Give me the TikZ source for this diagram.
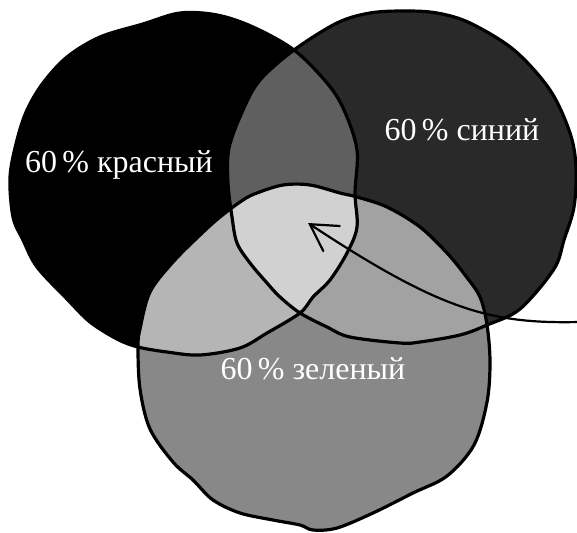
\documentclass[tikz,border=0pt]{standalone}
\usepackage{fontspec}
\setmainfont{Liberation Serif}
\usetikzlibrary{arrows.meta}
\definecolor{cRonly}{HTML}{000000}
\definecolor{cBonly}{HTML}{292929}
\definecolor{cGonly}{HTML}{888888}
\definecolor{cRB}{HTML}{5F5F5F}
\definecolor{cRG}{HTML}{B5B5B5}
\definecolor{cBG}{HTML}{A2A2A2}
\definecolor{cRGB}{HTML}{D1D1D1}
\tikzset{
  outline/.style={draw=black, line width=3.2pt, line join=round},
  lbl/.style={text=white, inner sep=0pt, anchor=base, font=\fontsize{32}{38}\selectfont},
  pointer/.style={draw=black, line width=2.2pt, line cap=round,
    -{Straight Barb[length=26pt,width=30pt,line cap=round]}},
}
\def\redpath{plot[smooth cycle, tension=0.55] coordinates {(180,13) (217,15) (253,27) (294,50) (327,83) (344,110) (357,150) (355,193) (357,227) (347,253) (330,280) (313,297) (300,313) (267,333) (240,348) (200,355) (167,352) (138,347) (117,339) (90,322) (67,299) (37,267) (23,240) (13,217) (10,177) (17,140) (27,110) (43,83) (67,57) (100,37) (143,24)}}
\def\bluepath{plot[smooth cycle, tension=0.55] coordinates {(294,50) (337,23) (370,13) (405,11) (437,13) (470,23) (514,50) (550,90) (570,133) (576,167) (574,207) (564,240) (554,269) (520,309) (487,325) (460,335) (420,342) (400,343) (350,337) (327,327) (300,313) (280,297) (267,283) (250,263) (237,243) (232,217) (228,183) (229,148) (243,110) (260,80)}}
\def\greenpath{plot[smooth cycle, tension=0.55] coordinates {(283,185) (310,185) (340,193) (357,197) (387,207) (420,227) (447,253) (465,275) (480,297) (487,325) (490,362) (487,402) (474,445) (447,476) (413,493) (373,513) (337,528) (313,530) (300,525) (273,520) (240,513) (213,500) (193,480) (173,462) (150,429) (140,389) (138,347) (140,329) (150,292) (173,262) (200,235) (220,217) (243,200) (257,193)}}
\begin{document}
\begin{tikzpicture}[x=1pt,y=-1pt]
\useasboundingbox (0,0) rectangle (577,532);
% base fills
\fill[cRonly] \redpath;
\fill[cBonly] \bluepath;
\fill[cGonly] \greenpath;
% overlaps
\begin{scope}
  \clip \redpath;
  \fill[cRB] \bluepath;
  \fill[cRG] \greenpath;
\end{scope}
\begin{scope}
  \clip \bluepath;
  \fill[cBG] \greenpath;
\end{scope}
\begin{scope}
  \clip \redpath;
  \clip \bluepath;
  \fill[cRGB] \greenpath;
\end{scope}
% outlines
\draw[outline] \redpath;
\draw[outline] \bluepath;
\draw[outline] \greenpath;
% labels
\node[lbl] (redlabel) at (119,172) {60\,\% красный};
\node[lbl] (bluelabel) at (462,140) {60\,\% синий};
\node[lbl] (greenlabel) at (313,379) {60\,\% зеленый};
% pointer
\coordinate (arrowstart) at (579,322);
\coordinate (arrowtip) at (308,223);
\draw[pointer] (arrowstart) .. controls (490,324) and (440,310) .. (arrowtip);
\end{tikzpicture}
\end{document}
